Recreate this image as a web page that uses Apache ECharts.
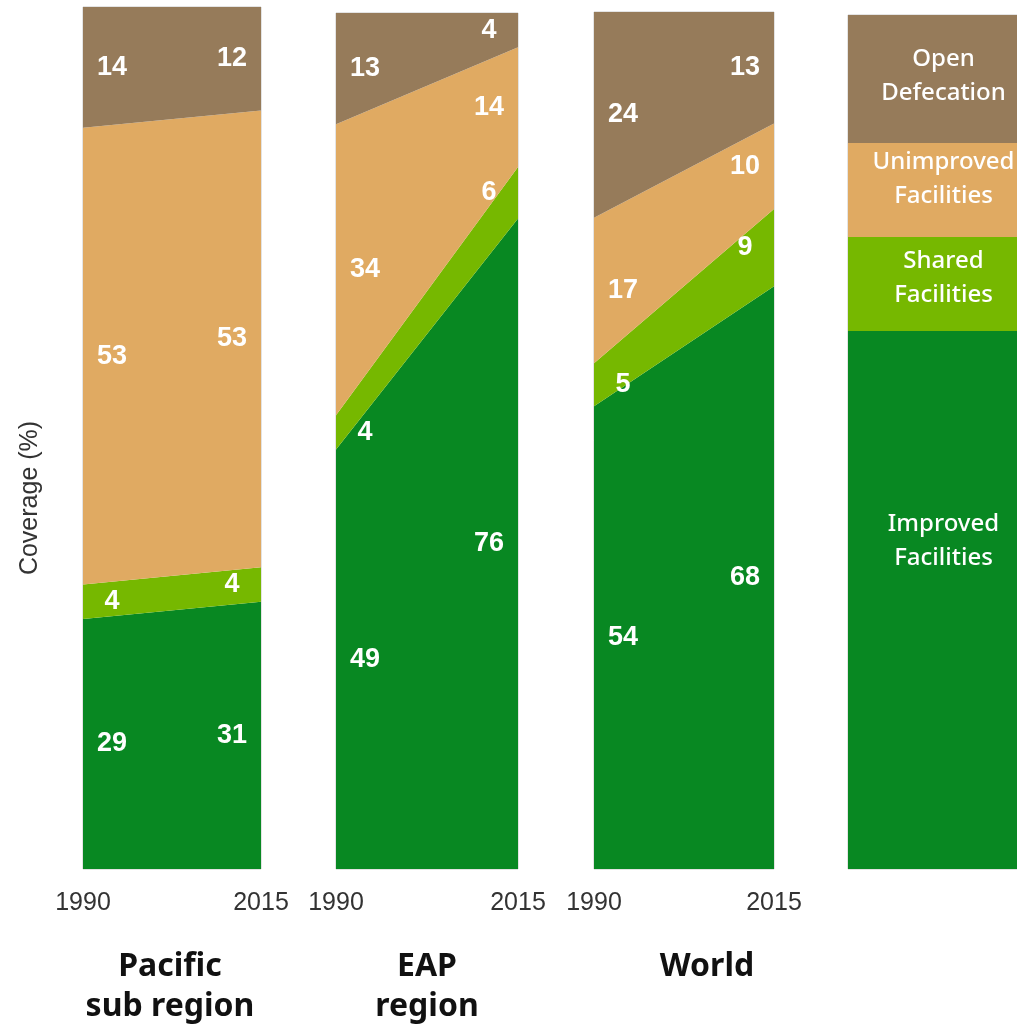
<!DOCTYPE html>
<html>
<head>
<meta charset="utf-8">
<script src="https://cdn.jsdelivr.net/npm/echarts@6/dist/echarts.min.js"></script>
<style>html,body{margin:0;padding:0;background:#fff}#c{width:1017px;height:1025px}</style>
</head>
<body>
<div id="c"></div>
<script>
// ---- data ----
const years = ['1990', '2015'];
const panelTitles = ['Pacific\nsub region', 'EAP\nregion', 'World'];
// per panel: [1990, 2015]  (Pacific, EAP, World)
const improved     = [[29, 31], [49, 76], [54, 68]];
const shared       = [[4, 4],   [4, 6],   [5, 9]];
const unimproved   = [[53, 53], [34, 14], [17, 10]];
const openDefecation = [[14, 12], [13, 4], [24, 13]];
const categoryNames = ['Improved\nFacilities', 'Shared\nFacilities', 'Unimproved\nFacilities', 'Open\nDefecation'];
const legendShares = [63, 11, 11, 15];
const yAxisTitle = 'Coverage (%)';

// ---- styles ----
const colors = ['#088822', '#76b800', '#e0aa62', '#967b5a'];
const layers = [improved, shared, unimproved, openDefecation];
const grids = [
  {left: 83, top: 7, width: 178, height: 862},
  {left: 336, top: 13, width: 182, height: 856},
  {left: 594, top: 12, width: 180, height: 857},
  {left: 848, top: 15, width: 190, height: 854}
];
const legendLabelOffsets = [[11, -59], [11, -6], [11, -11], [11, -3]];
const titleCenters = [165, 422, 702];

const chart = echarts.init(document.getElementById('c'), null, {renderer: 'canvas'});

const xAxes = [], yAxes = [], series = [], titles = [];
grids.forEach((g, i) => {
  g.show = true; g.borderColor = '#c8c8c8'; g.borderWidth = 1; g.backgroundColor = 'transparent';
  yAxes.push({gridIndex: i, type: 'value', min: 0, max: 100, show: false});
});
for (let p = 0; p < 3; p++) {
  xAxes.push({
    gridIndex: p, type: 'category', data: years, boundaryGap: false,
    axisLine: {show: false}, axisTick: {show: false}, splitLine: {show: false},
    axisLabel: {fontSize: 25, color: '#333', fontFamily: 'Liberation Sans, Arial, sans-serif', margin: 22, showMinLabel: true, showMaxLabel: true, interval: 0}
  });
  layers.forEach((layer, k) => {
    series.push({
      type: 'line', xAxisIndex: p, yAxisIndex: p, stack: 'panel' + p,
      data: layer[p], symbol: 'none', silent: true,
      lineStyle: {width: 0}, itemStyle: {color: colors[k]},
      areaStyle: {color: colors[k], opacity: 1}, z: 2
    });
  });
  // value labels at segment midpoints
  const pts = [];
  for (let j = 0; j < 2; j++) {
    let cum = 0;
    layers.forEach((layer) => {
      const v = layer[p][j];
      pts.push({
        value: [j, cum + v / 2],
        label: {formatter: String(v), offset: [j === 0 ? 29 : -29, 0]}
      });
      cum += v;
    });
  }
  series.push({
    type: 'scatter', xAxisIndex: p, yAxisIndex: p, symbolSize: 0, silent: true, z: 5,
    itemStyle: {opacity: 1, color: '#fff'},
    data: pts,
    label: {show: true, position: 'inside', color: '#ffffff', opacity: 1, fontSize: 27, fontWeight: 'bold',
      fontFamily: 'Liberation Sans Narrow, Liberation Sans, Arial, sans-serif'}
  });
  titles.push({
    text: panelTitles[p], left: titleCenters[p], top: 942, textAlign: 'center',
    textStyle: {fontSize: 32, fontWeight: 'bold', fontFamily: 'Noto Sans, sans-serif', color: '#111', lineHeight: 40}
  });
}
// legend block
xAxes.push({gridIndex: 3, type: 'category', data: ['legend'], show: false});
legendShares.forEach((v, k) => {
  series.push({
    type: 'bar', xAxisIndex: 3, yAxisIndex: 3, stack: 'legend', barWidth: '100%',
    data: [v], itemStyle: {color: colors[k]}, silent: true,
    label: {show: true, position: 'inside', formatter: categoryNames[k], color: '#fff',
      fontSize: 24, fontWeight: 500, lineHeight: 34, fontFamily: 'Noto Sans, sans-serif', offset: legendLabelOffsets[k]}
  });
});

chart.setOption({
  animation: false,
  title: titles,
  grid: grids,
  xAxis: xAxes,
  yAxis: yAxes,
  series: series,
  graphic: [{
    type: 'text', x: 30, y: 498, rotation: Math.PI / 2,
    style: {text: yAxisTitle, fontSize: 25, fill: '#333', fontFamily: 'Liberation Sans, Arial, sans-serif',
      textAlign: 'center', textVerticalAlign: 'middle'}
  }]
});
</script>
</body>
</html>
